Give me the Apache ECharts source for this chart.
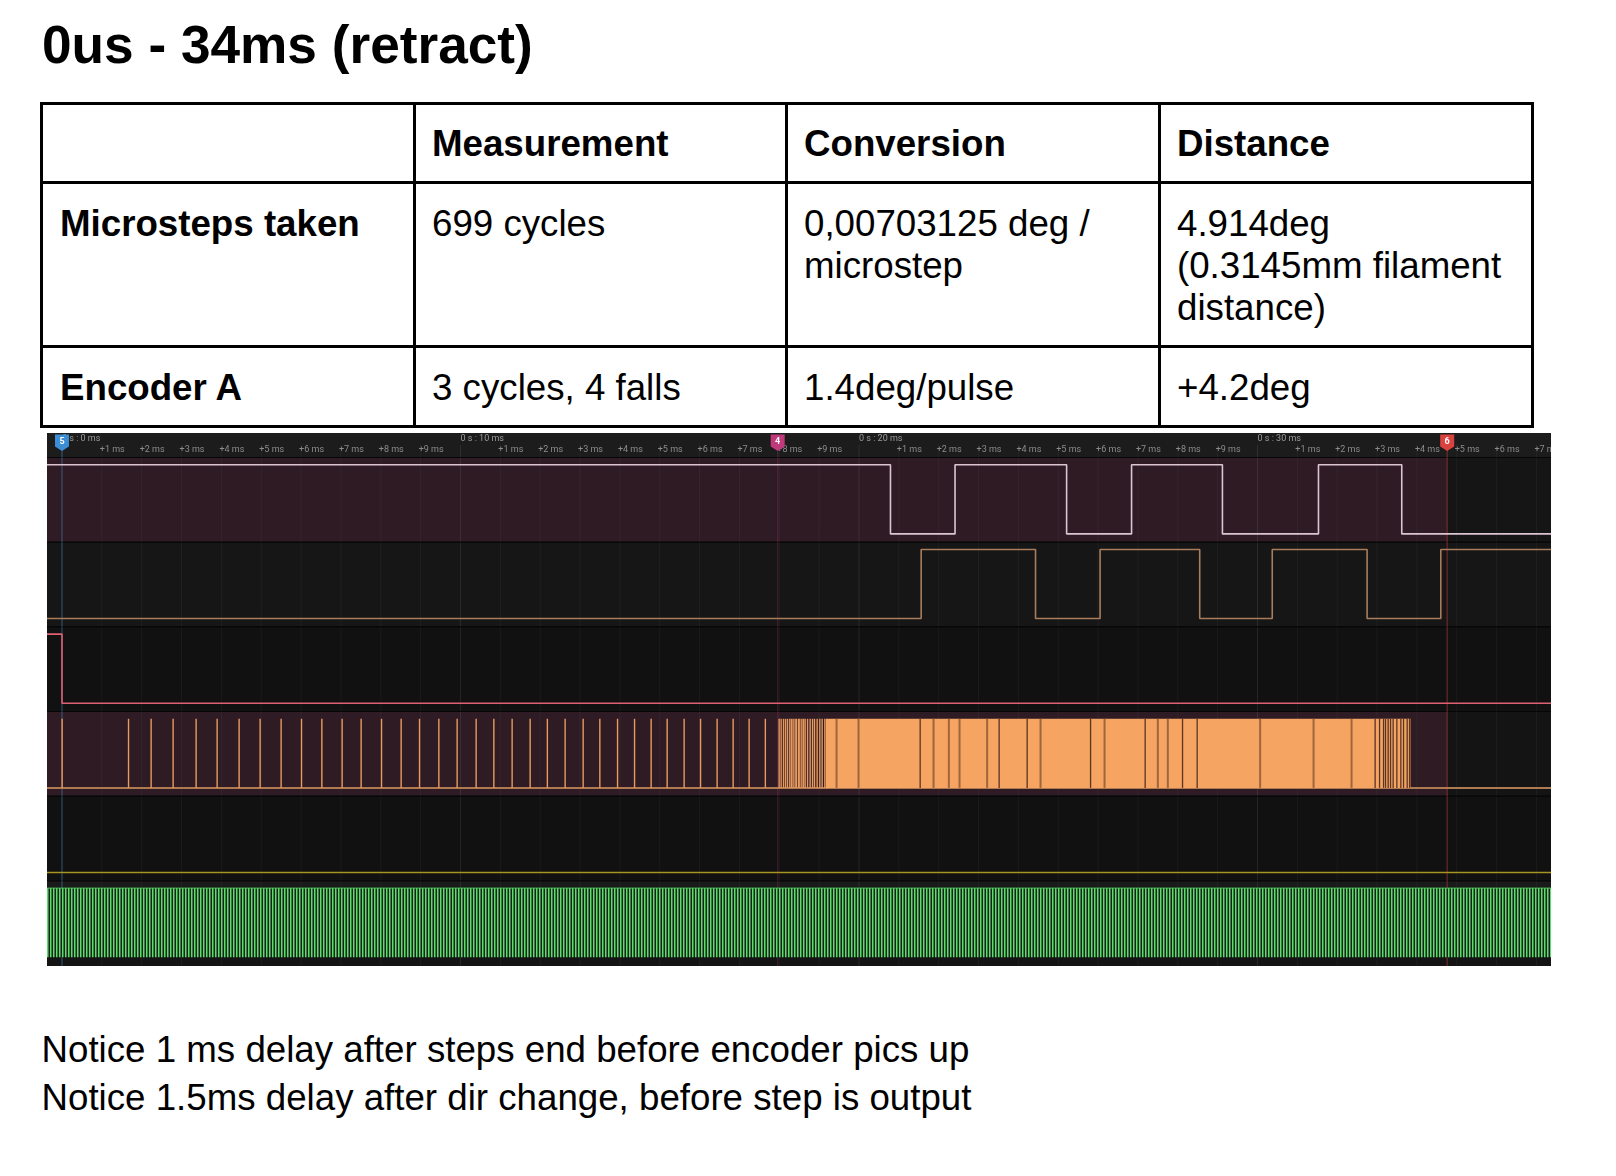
<!DOCTYPE html>
<html>
<head>
<meta charset="utf-8">
<script src="https://cdn.jsdelivr.net/npm/echarts@6/dist/echarts.min.js"></script>
<style>
html,body{margin:0;padding:0;background:#fff;}
body{width:1616px;height:1176px;position:relative;overflow:hidden;font-family:"Liberation Sans",Arial,sans-serif;color:#000;}
.t{position:absolute;white-space:nowrap;line-height:0;font-size:36.7px;}
.b{font-weight:bold;}
.ln{position:absolute;background:#000;}
#chart{position:absolute;left:47px;top:433px;width:1504px;height:533px;}
</style>
</head>
<body>
<div class="t b" style="left:42px;top:44.6px;font-size:53.2px;">0us - 34ms (retract)</div>

<!-- table grid -->
<div class="ln" style="left:40px;top:101.5px;width:1494px;height:3px;"></div>
<div class="ln" style="left:40px;top:181px;width:1494px;height:3px;"></div>
<div class="ln" style="left:40px;top:345px;width:1494px;height:3px;"></div>
<div class="ln" style="left:40px;top:424.5px;width:1494px;height:3px;"></div>
<div class="ln" style="left:40px;top:101.5px;width:3px;height:326px;"></div>
<div class="ln" style="left:413px;top:101.5px;width:3px;height:326px;"></div>
<div class="ln" style="left:785px;top:101.5px;width:3px;height:326px;"></div>
<div class="ln" style="left:1158px;top:101.5px;width:3px;height:326px;"></div>
<div class="ln" style="left:1531px;top:101.5px;width:3px;height:326px;"></div>

<div class="t b" style="left:432px;top:144px;">Measurement</div>
<div class="t b" style="left:804px;top:144px;">Conversion</div>
<div class="t b" style="left:1177px;top:144px;">Distance</div>

<div class="t b" style="left:60px;top:224.3px;">Microsteps taken</div>
<div class="t" style="left:432px;top:224.3px;">699 cycles</div>
<div class="t" style="left:804px;top:224.3px;">0,00703125 deg /</div>
<div class="t" style="left:804px;top:266px;">microstep</div>
<div class="t" style="left:1177px;top:224.3px;">4.914deg</div>
<div class="t" style="left:1177px;top:266px;">(0.3145mm filament</div>
<div class="t" style="left:1177px;top:307.8px;">distance)</div>

<div class="t b" style="left:60px;top:388.2px;">Encoder A</div>
<div class="t" style="left:432px;top:388.2px;">3 cycles, 4 falls</div>
<div class="t" style="left:804px;top:388.2px;">1.4deg/pulse</div>
<div class="t" style="left:1177px;top:388.2px;">+4.2deg</div>

<div id="chart"></div>

<div class="t" style="left:41.5px;top:1050.3px;">Notice 1 ms delay after steps end before encoder pics up</div>
<div class="t" style="left:41.5px;top:1098.3px;">Notice 1.5ms delay after dir change, before step is output</div>

<script>
// ---------------- data (read from the capture) ----------------
const viewMs = [-0.376, 37.365];

const majorTickMs = [0, 10, 20, 30];
const majorTickLabels = ['0 s : 0 ms', '0 s : 10 ms', '0 s : 20 ms', '0 s : 30 ms'];
const minorTickMs = [1, 2, 3, 4, 5, 6, 7, 8, 9,
                     11, 12, 13, 14, 15, 16, 17, 18, 19,
                     21, 22, 23, 24, 25, 26, 27, 28, 29,
                     31, 32, 33, 34, 35, 36, 37];
const minorTickLabels = ['+1 ms', '+2 ms', '+3 ms', '+4 ms', '+5 ms', '+6 ms', '+7 ms', '+8 ms', '+9 ms',
                         '+1 ms', '+2 ms', '+3 ms', '+4 ms', '+5 ms', '+6 ms', '+7 ms', '+8 ms', '+9 ms',
                         '+1 ms', '+2 ms', '+3 ms', '+4 ms', '+5 ms', '+6 ms', '+7 ms', '+8 ms', '+9 ms',
                         '+1 ms', '+2 ms', '+3 ms', '+4 ms', '+5 ms', '+6 ms', '+7 ms'];

const markerIds = ['5', '4', '6'];
const markerMs = [0, 17.96, 34.76];

const highlightMs = [-0.376, 34.76];
const highlightRows = [0, 3];

// channel 0 (encoder A): starts high, toggles at
const ch0StartLevel = 1;
const ch0EdgesMs = [20.79, 22.41, 25.21, 26.84, 29.12, 31.53, 33.62];
// channel 1 (encoder B): starts low
const ch1StartLevel = 0;
const ch1EdgesMs = [21.56, 24.43, 26.05, 28.55, 30.37, 32.75, 34.60];
// channel 2 (dir): high, falls at 0
const ch2StartLevel = 1;
const ch2EdgesMs = [0.0];
// channel 4: constant low
const ch4StartLevel = 0;
const ch4EdgesMs = [];

// channel 3 (step): individual pulses that can be resolved
const stepPulsesMs = [0.004, 1.670, 2.237, 2.789, 3.366, 3.893, 4.445, 4.972, 5.499, 6.011,
  6.521, 7.030, 7.507, 8.019, 8.511, 8.972, 9.457, 9.916, 10.393, 10.837,
  11.296, 11.748, 12.180, 12.626, 13.078, 13.497, 13.941, 14.368, 14.784, 15.186,
  15.612, 16.024, 16.440, 16.842, 17.243, 17.650,
  17.996, 18.046, 18.106, 18.157, 18.207, 18.264, 18.307, 18.347, 18.397, 18.432,
  18.483, 18.515, 18.566, 18.608, 18.649, 18.709, 18.774, 18.834, 18.884, 18.950,
  19.017, 19.075, 19.143];
// span where pulses are too dense to resolve (drawn filled)
const stepBurstMs = [19.168, 33.840];
// visible gaps inside the dense span
const stepGapsMs = [21.535, 23.517, 24.220, 25.811, 27.181, 28.119, 28.486,
  32.952, 33.063, 33.163, 33.213, 33.279, 33.339, 33.404, 33.497, 33.597, 33.665, 33.756, 33.816];
const stepGapsFaintMs = [19.437, 19.989, 21.871, 22.255, 22.523, 23.216, 24.556,
  26.162, 27.499, 27.750, 30.066, 31.407, 32.360];

// channel 5: free-running clock
const clockPeriodMs = 0.075;
const clockSpanMs = [-0.376, 37.365];

// ---------------- layout / styles ----------------
const XMIN = viewMs[0], XMAX = viewMs[1];
const ROWH = 84.67;
const YMIN = -24 / ROWH, YMAX = 6 + 1 / ROWH;
const HI = 0.092, LO = 0.908;
const yOf = (row, lvl) => row + (lvl ? HI : LO);
const ROW_BG = ['#151515', '#161616', '#111111', '#141414', '#111111', '#1a1a1a'];
const HEADER_BG = '#1c1c1c';
const MARKER_COLORS = ['#3c8dd3', '#c0397a', '#d9423e'];
const MARKER_LINE = ['rgba(60,140,210,0.3)', 'rgba(190,60,120,0.22)', 'rgba(220,70,70,0.35)'];

function levelData(row, start, edges) {
  let lvl = start;
  const pts = [[XMIN, yOf(row, lvl)]];
  edges.forEach(t => { lvl = 1 - lvl; pts.push([t, yOf(row, lvl)]); });
  pts.push([XMAX, yOf(row, lvl)]);
  return pts;
}
function lineSeries(data, color, z) {
  return {
    type: 'line', data: data, step: 'end', showSymbol: false, symbol: 'none',
    lineStyle: { color: color, width: 1.6 }, silent: true, z: z, animation: false
  };
}
function rectFrom(api, x0, y0, x1, y1) {
  const a = api.coord([x0, y0]), b = api.coord([x1, y1]);
  return { x: Math.min(a[0], b[0]), y: Math.min(a[1], b[1]),
           width: Math.abs(b[0] - a[0]), height: Math.abs(b[1] - a[1]) };
}
function vline(api, t, y0, y1, color, w) {
  const a = api.coord([t, y0]), b = api.coord([t, y1]);
  return { type: 'line', shape: { x1: a[0], y1: a[1], x2: b[0], y2: b[1] },
           style: { stroke: color, lineWidth: w } };
}

let clockPattern = null;
function getClockPattern(periodPx) {
  if (clockPattern) return clockPattern;
  const n = 40;
  const w = Math.round(n * periodPx);
  const step = w / n;
  const c = document.createElement('canvas');
  c.width = w; c.height = 4;
  const ctx = c.getContext('2d');
  ctx.fillStyle = '#1b211c';
  ctx.fillRect(0, 0, w, 4);
  ctx.fillStyle = '#58de69';
  for (let i = 0; i < n; i++) ctx.fillRect(i * step, 0, step * 0.5, 4);
  clockPattern = { image: c, repeat: 'repeat' };
  return clockPattern;
}

const chart = echarts.init(document.getElementById('chart'), null, { renderer: 'canvas', width: 1504, height: 533 });

const rowsForBg = [-1, 0, 1, 2, 3, 4, 5];
const allTicks = majorTickMs.concat(minorTickMs);

const option = {
  animation: false,
  backgroundColor: '#111111',
  grid: { left: 0, right: 0, top: 0, bottom: 0, containLabel: false },
  xAxis: { type: 'value', min: XMIN, max: XMAX, show: false },
  yAxis: { type: 'value', min: YMIN, max: YMAX, inverse: true, show: false },
  series: [
    // row backgrounds
    { type: 'custom', z: 1, silent: true, data: rowsForBg.map(r => [r]),
      renderItem: (p, api) => {
        const r = api.value(0);
        const y0 = r < 0 ? YMIN : r, y1 = r < 0 ? 0 : r + 1;
        return { type: 'rect', shape: rectFrom(api, XMIN, y0, XMAX, y1),
                 style: { fill: r < 0 ? HEADER_BG : ROW_BG[r] } };
      } },
    // highlighted (measurement) region
    { type: 'custom', z: 2, silent: true, data: highlightRows.map(r => [highlightMs[0], highlightMs[1], r]),
      renderItem: (p, api) => {
        const r = api.value(2);
        return { type: 'rect', shape: rectFrom(api, api.value(0), r, api.value(1), r + 1),
                 style: { fill: '#2e1b24' } };
      } },
    // green row lower band
    { type: 'custom', z: 2, silent: true, data: [[5]],
      renderItem: (p, api) => ({ type: 'rect', shape: rectFrom(api, XMIN, 5 + LO, XMAX, 6 + 1 / ROWH),
        style: { fill: '#141414' } }) },
    // time grid lines
    { type: 'custom', z: 3, silent: true, data: allTicks.map(t => [t]),
      renderItem: (p, api) => {
        const t = api.value(0);
        const major = majorTickMs.indexOf(t) >= 0;
        return vline(api, t, YMIN + (major ? 12 : 11) / ROWH, YMAX, major ? 'rgba(255,255,255,0.085)' : 'rgba(255,255,255,0.045)', 1);
      } },
    // row separators
    { type: 'custom', z: 4, silent: true, data: [[0], [1], [2], [3], [4], [5]],
      renderItem: (p, api) => {
        const r = api.value(0);
        const a = api.coord([XMIN, r]), b = api.coord([XMAX, r]);
        return { type: 'line', shape: { x1: a[0], y1: a[1] + 0.5, x2: b[0], y2: b[1] + 0.5 },
                 style: { stroke: '#060606', lineWidth: 1.2 } };
      } },
    // marker lines
    { type: 'custom', z: 5, silent: true, data: markerMs.map((t, i) => [t, i]),
      renderItem: (p, api) => vline(api, api.value(0), YMIN + 17 / ROWH, YMAX, MARKER_LINE[api.value(1)], 1.5) },

    // digital channels
    lineSeries(levelData(0, ch0StartLevel, ch0EdgesMs), '#dcc5d1', 10),
    lineSeries(levelData(1, ch1StartLevel, ch1EdgesMs), '#a97c5c', 10),
    lineSeries(levelData(2, ch2StartLevel, ch2EdgesMs), '#de6072', 10),
    lineSeries(levelData(4, ch4StartLevel, ch4EdgesMs), '#a8951f', 10),
    // step channel base (low level)
    { type: 'line', data: [[XMIN, yOf(3, 0)], [XMAX, yOf(3, 0)]], showSymbol: false, symbol: 'none',
      lineStyle: { color: '#b07a50', width: 2 }, silent: true, z: 10 },
    // step channel dense span
    { type: 'custom', z: 11, silent: true, data: [stepBurstMs],
      renderItem: (p, api) => ({ type: 'rect', shape: rectFrom(api, api.value(0), yOf(3, 1), api.value(1), yOf(3, 0)),
        style: { fill: '#f5a462' } }) },
    // gaps inside dense span
    { type: 'custom', z: 12, silent: true, data: stepGapsFaintMs.map(t => [t]),
      renderItem: (p, api) => vline(api, api.value(0), yOf(3, 1), yOf(3, 0), 'rgba(130,80,50,0.75)', 2) },
    { type: 'custom', z: 12, silent: true, data: stepGapsMs.map(t => [t]),
      renderItem: (p, api) => vline(api, api.value(0), yOf(3, 1), yOf(3, 0), '#5a3526', 1.3) },
    // individual step pulses
    { type: 'custom', z: 12, silent: true, data: stepPulsesMs.map(t => [t]),
      renderItem: (p, api) => vline(api, api.value(0), yOf(3, 1), yOf(3, 0), '#e99a5e', 1.4) },

    // clock channel
    { type: 'custom', z: 11, silent: true, data: [clockSpanMs],
      renderItem: (p, api) => {
        const periodPx = api.size([clockPeriodMs, 0])[0];
        const shape = rectFrom(api, api.value(0), yOf(5, 1), api.value(1), yOf(5, 0));
        const a = api.coord([api.value(0), yOf(5, 1)]), b = api.coord([api.value(1), yOf(5, 1)]);
        return { type: 'group', children: [
          { type: 'rect', shape: shape, style: { fill: getClockPattern(periodPx) } },
          { type: 'line', shape: { x1: a[0], y1: a[1], x2: b[0], y2: b[1] }, style: { stroke: '#4cc25b', lineWidth: 1 } }
        ] };
      } },

    // header labels
    { type: 'custom', z: 20, silent: true, data: majorTickMs.map((t, i) => [t, i]),
      renderItem: (p, api) => {
        const pt = api.coord([api.value(0), YMIN + 5.5 / ROWH]);
        return { type: 'text', x: pt[0], y: pt[1],
          style: { text: majorTickLabels[api.value(1)], fill: '#9a9a9a', font: '9px Roboto',
                   align: 'left', verticalAlign: 'middle', textAlign: 'left', textVerticalAlign: 'middle' } };
      } },
    { type: 'custom', z: 20, silent: true, data: minorTickMs.map((t, i) => [t, i]),
      renderItem: (p, api) => {
        const pt = api.coord([api.value(0), YMIN + 16.5 / ROWH]);
        return { type: 'text', x: pt[0] - 2, y: pt[1],
          style: { text: minorTickLabels[api.value(1)], fill: '#8c8c8c', font: '9px Roboto',
                   align: 'left', verticalAlign: 'middle', textAlign: 'left', textVerticalAlign: 'middle' } };
      } },
    // marker flags
    { type: 'custom', z: 30, silent: true, data: markerMs.map((t, i) => [t, i]),
      renderItem: (p, api) => {
        const i = api.value(1);
        const top = api.coord([api.value(0), YMIN + 1.5 / ROWH]);
        const x = top[0], y = top[1];
        return { type: 'group', children: [
          { type: 'polygon', shape: { points: [[x - 7, y], [x + 7, y], [x + 7, y + 12], [x, y + 16.5], [x - 7, y + 12]] },
            style: { fill: MARKER_COLORS[i] } },
          { type: 'text', x: x, y: y + 7,
            style: { text: markerIds[i], fill: '#ffffff', font: 'bold 9px Roboto',
                     align: 'center', verticalAlign: 'middle', textAlign: 'center', textVerticalAlign: 'middle' } }
        ] };
      } }
  ]
};
chart.setOption(option);
</script>
</body>
</html>
